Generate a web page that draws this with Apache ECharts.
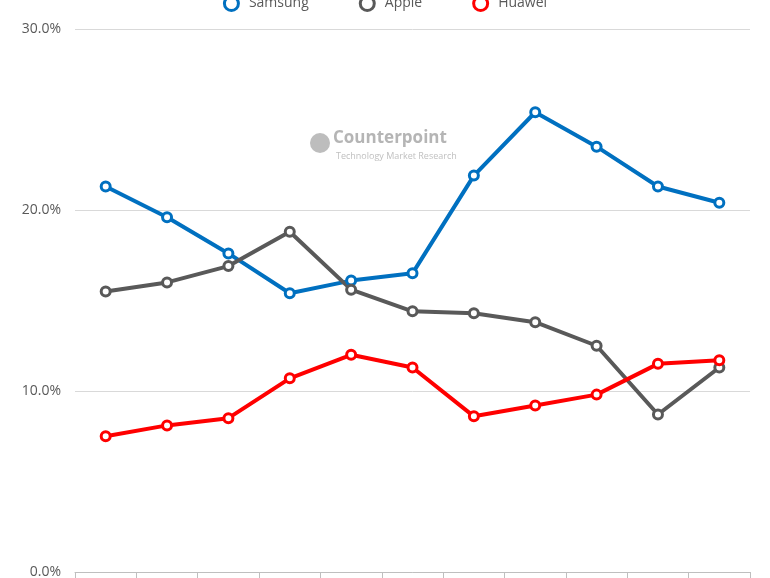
<!DOCTYPE html>
<html>
<head>
<meta charset="UTF-8">
<script src="https://cdn.jsdelivr.net/npm/echarts@6/dist/echarts.min.js"></script>
<style>html,body{margin:0;background:#fff}#chart{width:770px;height:578px}</style>
</head>
<body>
<div id="chart"></div>
<script>
var quarters = ['Q1 2017','Q2 2017','Q3 2017','Q4 2017','Q1 2018','Q2 2018','Q3 2018','Q4 2018','Q1 2019','Q2 2019','Q3 2019'];
var samsung = [21.3, 19.6, 17.6, 15.4, 16.1, 16.5, 21.9, 25.4, 23.5, 21.3, 20.4];
var apple = [15.5, 16.0, 16.9, 18.8, 15.6, 14.4, 14.3, 13.8, 12.5, 8.7, 11.3];
var huawei = [7.5, 8.1, 8.5, 10.7, 12.0, 11.3, 8.6, 9.2, 9.8, 11.5, 11.7];

function line(name, data, color) {
    return {
        name: name, type: 'line', data: data,
        symbol: 'circle', symbolSize: 9,
        lineStyle: {width: 4, color: color},
        itemStyle: {color: '#fff', borderColor: color, borderWidth: 3},
        emphasis: {disabled: true}
    };
}

var myChart = echarts.init(document.getElementById('chart'));
myChart.setOption({
    animation: false,
    graphic: [{
        type: 'group', left: 310, top: 130,
        children: [
            {type: 'circle', shape: {cx: 11, cy: 13, r: 10}, style: {fill: '#bdbdbd'}},
            {type: 'text', style: {x: 24, y: 0, text: 'Counterpoint', fill: '#b5b5b5', font: 'bold 17px "Open Sans"'}},
            {type: 'text', style: {x: 27, y: 22, text: 'Technology Market Research', fill: '#c0c0c0', font: '9px "Open Sans"'}}
        ]
    }],
    legend: {
        top: -10, left: 'center', itemGap: 50,
        textStyle: {color: '#595959', fontSize: 14, fontFamily: 'Open Sans'},
        data: [
            {name: 'Samsung', icon: 'circle', itemStyle: {color: '#fff', borderColor: '#0070c0', borderWidth: 3}},
            {name: 'Apple', icon: 'circle', itemStyle: {color: '#fff', borderColor: '#595959', borderWidth: 3}},
            {name: 'Huawei', icon: 'circle', itemStyle: {color: '#fff', borderColor: '#ff0000', borderWidth: 3}}
        ]
    },
    grid: {left: 75, right: 20, top: 29, bottom: 6, outerBoundsMode: 'none', containLabel: false},
    xAxis: {
        type: 'category', data: quarters, boundaryGap: true,
        axisLine: {lineStyle: {color: '#bfbfbf'}},
        axisTick: {show: true, length: 6, lineStyle: {color: '#bfbfbf'}},
        axisLabel: {color: '#595959'}
    },
    yAxis: {
        type: 'value', min: 0, max: 30, interval: 10,
        axisLabel: {formatter: function (v) { return v.toFixed(1) + '%'; }, color: '#595959', fontSize: 14, fontFamily: 'Open Sans', margin: 14},
        splitLine: {lineStyle: {color: '#d9d9d9'}}
    },
    series: [
        line('Samsung', samsung, '#0070c0'),
        line('Apple', apple, '#595959'),
        line('Huawei', huawei, '#ff0000')
    ]
});
</script>
</body>
</html>
